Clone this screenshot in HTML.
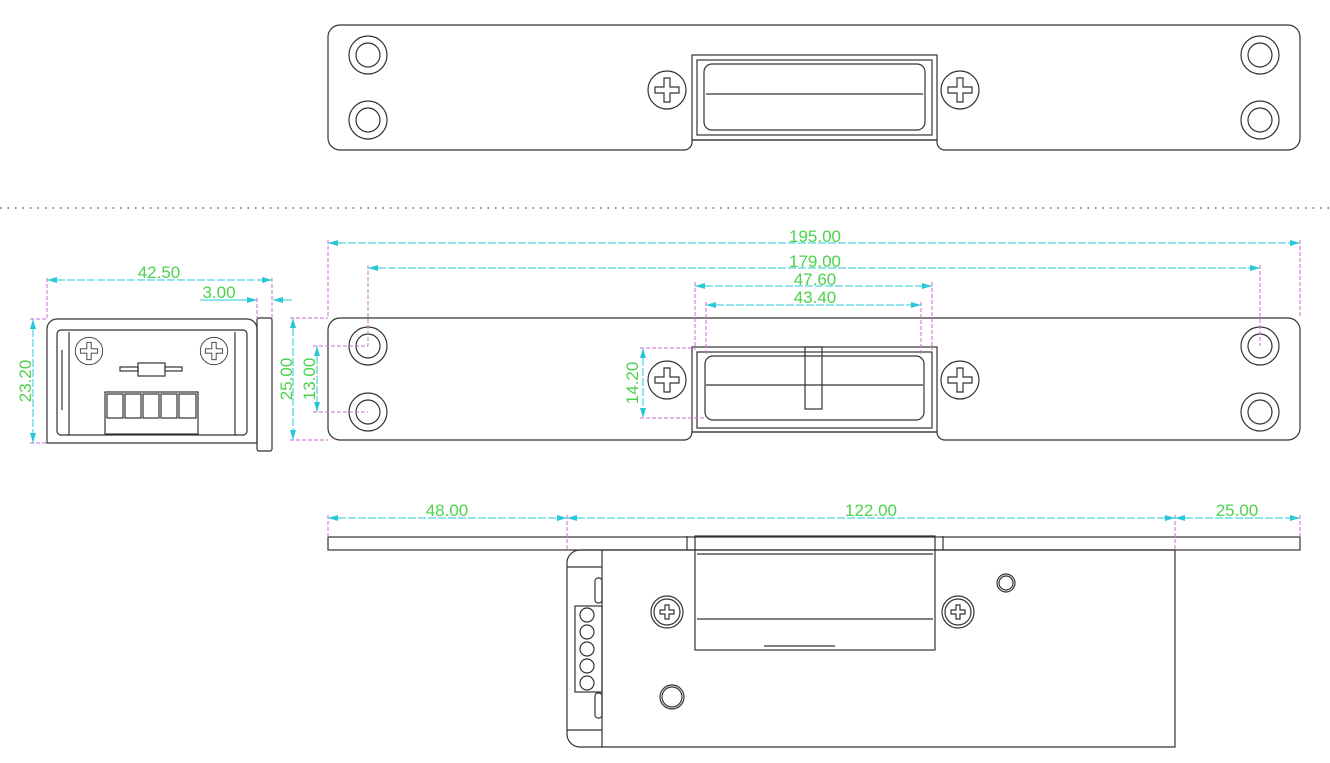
<!DOCTYPE html>
<html><head><style>body{margin:0;background:#fff}svg{display:block}</style></head><body>
<svg width="1330" height="763" viewBox="0 0 1330 763" xmlns="http://www.w3.org/2000/svg">
<defs>
<marker id="a" viewBox="0 0 10 6" refX="10" refY="3" markerWidth="10" markerHeight="6" orient="auto-start-reverse" markerUnits="userSpaceOnUse"><path d="M0,0L10,3L0,6z" fill="#28c8d8"/></marker>
<g id="scr"><circle r="19" fill="none" stroke="#333" stroke-width="1.2"/><path d="M-3,-12h6v9h9v6h-9v9h-6v-9h-9v-6h9z" fill="none" stroke="#333" stroke-width="1.2"/></g>
<g id="hole"><circle r="19" fill="none" stroke="#333" stroke-width="1.2"/><circle r="12" fill="none" stroke="#333" stroke-width="1.2"/></g>
</defs>
<g fill="none" stroke="#333" stroke-width="1.2">
<!-- top view -->
<path d="M340,25H1288a12,12 0 0 1 12,12V138a12,12 0 0 1-12,12H945a8,8 0 0 1-8-8V140H692v2a8,8 0 0 1-8,8H340a12,12 0 0 1-12-12V37a12,12 0 0 1 12-12z"/>
<rect x="692" y="55" width="245" height="85"/><rect x="697" y="60" width="235" height="75"/>
<rect x="704" y="64" width="221" height="66" rx="8"/><line x1="706" y1="94" x2="923" y2="94"/>
<!-- middle view -->
<path d="M340,318H1288a12,12 0 0 1 12,12V428a12,12 0 0 1-12,12H945a8,8 0 0 1-8-8V432H692v0a8,8 0 0 1-8,8H340a12,12 0 0 1-12-12V330a12,12 0 0 1 12-12z"/>
<rect x="692" y="347" width="245" height="85"/><rect x="697" y="352" width="235" height="76"/>
<rect x="705" y="356" width="219" height="64" rx="8"/><line x1="706" y1="385" x2="923" y2="385"/>
<rect x="805" y="347" width="17" height="62"/>
<!-- side view -->
<path d="M57,319H247a10,10 0 0 1 10,10V443H47V329a10,10 0 0 1 10-10z"/>
<rect x="257" y="318" width="15" height="133" rx="2"/>
<rect x="57" y="330" width="190" height="105" rx="4"/><line x1="69" y1="332" x2="69" y2="435"/><line x1="235" y1="332" x2="235" y2="435"/>
<rect x="138" y="363" width="27" height="13"/><rect x="120" y="367" width="18" height="4"/><rect x="165" y="367" width="17" height="4"/>
<rect x="105" y="392" width="93" height="42"/>
<rect x="107" y="394" width="16" height="24"/><rect x="125" y="394" width="16" height="24"/><rect x="143" y="394" width="16" height="24"/><rect x="161" y="394" width="16" height="24"/><rect x="179" y="394" width="17" height="24"/>
<line x1="62" y1="350" x2="62" y2="410"/>
<!-- bottom view -->
<rect x="328" y="537" width="972" height="13"/>
<path d="M580,550H1175V747H580a13,13 0 0 1-13-13V563a13,13 0 0 1 13-13z"/>
<line x1="602" y1="550" x2="602" y2="747"/><line x1="567" y1="567" x2="602" y2="567"/><line x1="567" y1="730" x2="602" y2="730"/>
<rect x="575" y="606" width="27" height="86"/>
<rect x="595" y="578" width="7" height="25" rx="3"/><rect x="595" y="693" width="7" height="25" rx="3"/>
<rect x="695" y="536" width="240" height="114"/><line x1="697" y1="554" x2="933" y2="554"/><line x1="697" y1="619" x2="933" y2="619"/>
<line x1="687" y1="536" x2="687" y2="550"/><line x1="943" y1="536" x2="943" y2="550"/>
<line x1="764" y1="646" x2="835" y2="646"/>
<circle cx="1006" cy="583" r="9"/><circle cx="1006" cy="583" r="7"/><circle cx="672" cy="697" r="12"/><circle cx="672" cy="697" r="10"/>
<circle cx="667" cy="612" r="16"/><circle cx="667" cy="612" r="13"/><circle cx="958" cy="612" r="16"/><circle cx="958" cy="612" r="13"/>
<path d="M665,605h4v5h5v4h-5v5h-4v-5h-5v-4h5z"/><path d="M956,605h4v5h5v4h-5v5h-4v-5h-5v-4h5z"/>
<circle cx="587" cy="615" r="7"/><circle cx="587" cy="632" r="7"/><circle cx="587" cy="649" r="7"/><circle cx="587" cy="666" r="7"/><circle cx="587" cy="683" r="7"/>
</g>
<use href="#hole" x="368" y="55"/><use href="#hole" x="368" y="120"/><use href="#hole" x="1260" y="55"/><use href="#hole" x="1260" y="120"/>
<use href="#scr" x="667" y="90"/><use href="#scr" x="960" y="90"/>
<use href="#hole" x="368" y="346"/><use href="#hole" x="368" y="412"/><use href="#hole" x="1260" y="346"/><use href="#hole" x="1260" y="412"/>
<use href="#scr" x="667" y="380"/><use href="#scr" x="960" y="380"/>
<g transform="translate(89,351) scale(0.72)"><use href="#scr"/></g><g transform="translate(214,351) scale(0.72)"><use href="#scr"/></g>
<line x1="0" y1="208" x2="1330" y2="208" stroke="#666" stroke-width="1.5" stroke-dasharray="1.5,6"/>
<!-- magenta extension lines -->
<g stroke="#d26ad8" stroke-width="1" stroke-dasharray="4,2">
<path d="M328,240V318M1300,240V318M368,265V346M1260,265V346M695,282V350M932,282V350M706,302V356M921,302V356M640,348H692M640,418H706"/>
<path d="M47,278V318M272,278V318M257,298V318M30,319H47M30,443H47M290,318H328M290,440H328M313,346H368M313,412H368"/>
<path d="M328,515V537M567,515V550M1175,515V550M1300,515V537"/>
</g>
<!-- cyan dims -->
<g stroke="#28c8d8" stroke-width="1" stroke-dasharray="8,2" marker-start="url(#a)" marker-end="url(#a)">
<line x1="328" y1="243" x2="1300" y2="243"/><line x1="368" y1="268" x2="1260" y2="268"/>
<line x1="695" y1="286" x2="932" y2="286"/><line x1="706" y1="305" x2="921" y2="305"/>
<line x1="643" y1="348" x2="643" y2="418"/>
<line x1="47" y1="280" x2="272" y2="280"/>
<line x1="33" y1="319" x2="33" y2="443"/><line x1="293" y1="318" x2="293" y2="440"/><line x1="317" y1="346" x2="317" y2="412"/>
<line x1="328" y1="518" x2="567" y2="518"/><line x1="567" y1="518" x2="1175" y2="518"/><line x1="1175" y1="518" x2="1300" y2="518"/>
</g>
<g stroke="#28c8d8" stroke-width="1"><line x1="200" y1="300" x2="257" y2="300" marker-end="url(#a)"/><line x1="292" y1="300" x2="273" y2="300" marker-end="url(#a)"/></g>
<g fill="#4cd24c" font-family="Liberation Sans, sans-serif" font-size="17" text-anchor="middle">
<text x="815" y="242">195.00</text><text x="815" y="267">179.00</text><text x="815" y="285">47.60</text><text x="815" y="303">43.40</text>
<text x="159" y="278">42.50</text><text x="219" y="298">3.00</text>
<text x="447" y="516">48.00</text><text x="871" y="516">122.00</text><text x="1237" y="516">25.00</text>
<text transform="translate(638,383) rotate(-90)">14.20</text>
<text transform="translate(31,381) rotate(-90)">23.20</text>
<text transform="translate(292,379) rotate(-90)">25.00</text>
<text transform="translate(315,379) rotate(-90)">13.00</text>
</g>
</svg>
</body></html>
